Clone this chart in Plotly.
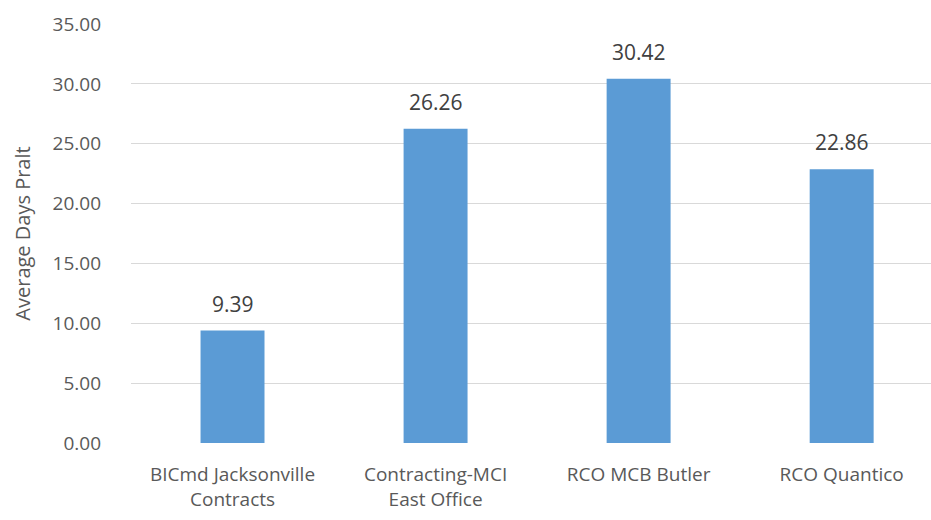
import plotly.graph_objects as go

categories = ["BICmd Jacksonville<br>Contracts", "Contracting-MCI<br>East Office", "RCO MCB Butler", "RCO Quantico"]
values = [9.39, 26.26, 30.42, 22.86]
tick_vals = [0, 5, 10, 15, 20, 25, 30, 35]
tick_text = [f"{v:.2f}" for v in tick_vals]

FONT = "Open Sans"
GREY = "#595959"

fig = go.Figure()
fig.add_trace(go.Bar(x=list(range(len(categories))), y=values, width=0.315,
                     marker=dict(color="#5B9BD5", line=dict(width=0)),
                     hoverinfo="skip"))

for i, v in enumerate(values):
    fig.add_annotation(x=i, y=v, text=f"{v:.2f}", showarrow=False,
                       xanchor="center", yanchor="bottom", yshift=11,
                       font=dict(family=FONT, size=21, color="#404040"))

fig.update_layout(
    width=931, height=520,
    margin=dict(l=131, r=0, t=24, b=77),
    plot_bgcolor="white", paper_bgcolor="white",
    showlegend=False,
    font=dict(family=FONT, size=19, color=GREY),
    xaxis=dict(tickmode="array", tickvals=list(range(len(categories))), ticktext=categories,
               range=[-0.5, 3.44], showgrid=False, zeroline=False, showline=False,
               ticklabelstandoff=18,
               tickfont=dict(family=FONT, size=19, color=GREY)),
    yaxis=dict(range=[0, 35], tickmode="array", tickvals=tick_vals, ticktext=tick_text,
               showgrid=True, gridcolor="#D9D9D9", gridwidth=1, zeroline=False,
               tickfont=dict(family=FONT, size=19, color=GREY), ticklabelstandoff=29,
               title=dict(text="Average Days Pralt", font=dict(family=FONT, size=20, color=GREY), standoff=16)),
)

fig.write_html("out.html")
